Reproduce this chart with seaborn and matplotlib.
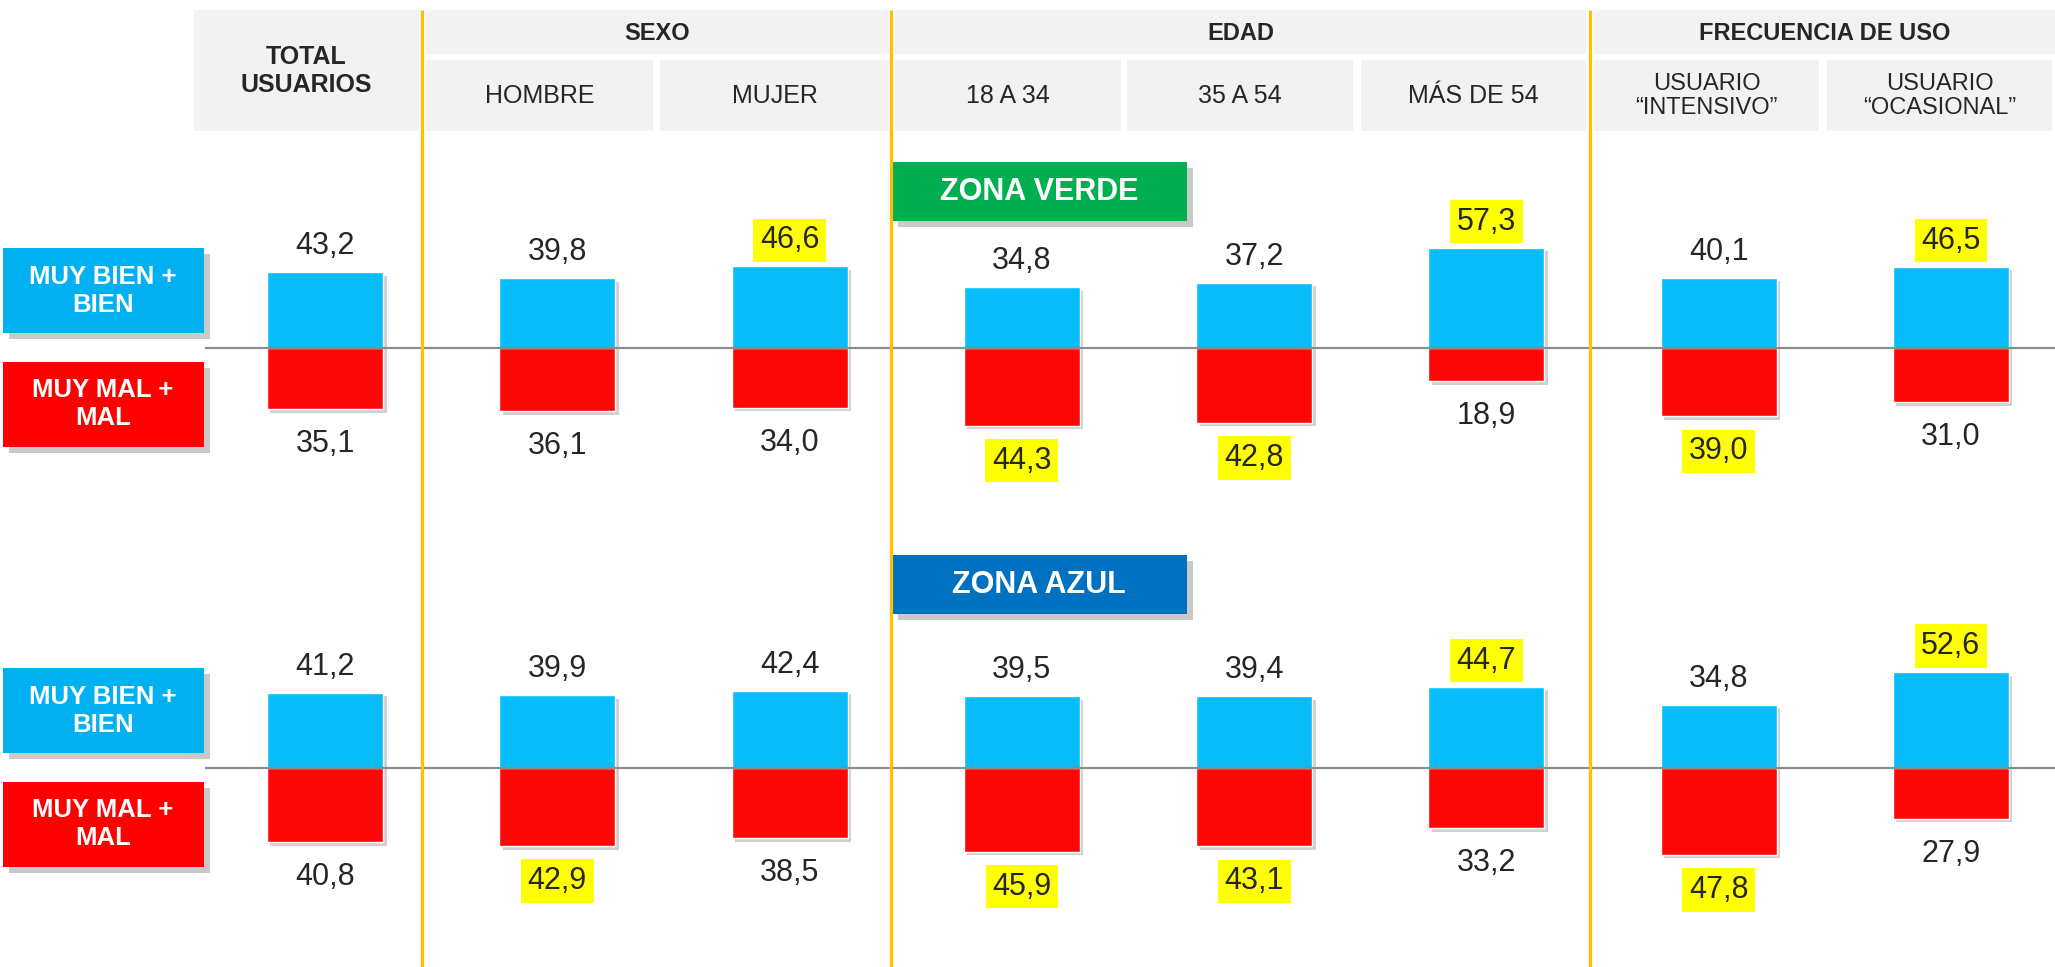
import matplotlib.pyplot as plt
import matplotlib.patheffects as pe
from matplotlib.patches import Rectangle
import seaborn as sns

# datos
categorias = ['TOTAL USUARIOS', 'HOMBRE', 'MUJER', '18 A 34', '35 A 54', 'MÁS DE 54',
              'USUARIO INTENSIVO', 'USUARIO OCASIONAL']
grupos = ['SEXO', 'EDAD', 'FRECUENCIA DE USO']
subtitulos = ['HOMBRE', 'MUJER', '18 A 34', '35 A 54', 'MÁS DE 54',
              'USUARIO\n“INTENSIVO”', 'USUARIO\n“OCASIONAL”']

verde_bien = [43.2, 39.8, 46.6, 34.8, 37.2, 57.3, 40.1, 46.5]
verde_mal = [35.1, 36.1, 34.0, 44.3, 42.8, 18.9, 39.0, 31.0]
azul_bien = [41.2, 39.9, 42.4, 39.5, 39.4, 44.7, 34.8, 52.6]
azul_mal = [40.8, 42.9, 38.5, 45.9, 43.1, 33.2, 47.8, 27.9]

# valores resaltados en amarillo
verde_bien_dest = [0, 0, 1, 0, 0, 1, 0, 1]
verde_mal_dest = [0, 0, 0, 1, 1, 0, 1, 0]
azul_bien_dest = [0, 0, 0, 0, 0, 1, 0, 1]
azul_mal_dest = [0, 1, 0, 1, 1, 0, 1, 0]

sns.set_style('white')
plt.rcParams['font.family'] = ['Liberation Sans', 'DejaVu Sans']

W, H = 2055, 967
fig = plt.figure(figsize=(W / 100, H / 100), dpi=100)


def px_axes(x0, y0, x1, y1, **kw):
    return fig.add_axes([x0 / W, 1 - y1 / H, (x1 - x0) / W, (y1 - y0) / H], **kw)


def fmt(v):
    return f'{v:.1f}'.replace('.', ',')


azul_barra = '#07BDFA'
rojo_barra = '#FE0707'
sombra = [pe.SimplePatchShadow(offset=(2.5, -2.5), shadow_rgbFace='#7a7a7a', alpha=0.35), pe.Normal()]
sombra_caja = [pe.SimplePatchShadow(offset=(4, -4), shadow_rgbFace='#7a7a7a', alpha=0.4), pe.Normal()]

zonas = [
    ('ZONA VERDE', '#00B050', verde_bien, verde_mal, verde_bien_dest, verde_mal_dest, 140, 480, 348, 1.75, 162),
    ('ZONA AZUL', '#0070C0', azul_bien, azul_mal, azul_bien_dest, azul_mal_dest, 500, 967, 768, 1.82, 555),
]

for nombre, col_zona, bien, mal, bien_d, mal_d, top, bot, cero, esc, zy in zonas:
    ax = px_axes(205, top, W, bot)
    ax.patch.set_visible(False)
    sns.barplot(x=categorias, y=bien, color=azul_barra, width=0.5, saturation=1,
                errorbar=None, ax=ax)
    sns.barplot(x=categorias, y=[-v for v in mal], color=rojo_barra, width=0.5, saturation=1,
                errorbar=None, ax=ax)
    for p in ax.patches:
        p.set_path_effects(sombra)
    ax.axhline(0, color='#8C8C8C', lw=1.6, zorder=3)
    ax.set_xlim(-0.517, 7.448)
    ax.set_ylim(-(bot - cero) / esc, (cero - top) / esc)
    ax.axis('off')

    for i, (v, d) in enumerate(zip(bien, bien_d)):
        ax.annotate(fmt(v), (i, v), xytext=(0, 13), textcoords='offset points',
                    ha='center', va='baseline', fontsize=22,
                    bbox=dict(boxstyle='square,pad=0.22', fc='#FFFF00', ec='none') if d else None)
    for i, (v, d) in enumerate(zip(mal, mal_d)):
        ax.annotate(fmt(v), (i, -v), xytext=(0, -31), textcoords='offset points',
                    ha='center', va='baseline', fontsize=22,
                    bbox=dict(boxstyle='square,pad=0.22', fc='#FFFF00', ec='none') if d else None)

# capa de maquetacion en pixeles
ov = fig.add_axes([0, 0, 1, 1], zorder=3)
ov.patch.set_visible(False)
ov.set_xlim(0, W)
ov.set_ylim(H, 0)
ov.axis('off')

gris = '#F2F2F2'
ov.add_patch(Rectangle((194, 10), 225, 121, fc=gris, ec='none'))
ov.text(306, 71, 'TOTAL\nUSUARIOS', ha='center', va='center', fontsize=18,
        fontweight='bold', linespacing=1.25)

grupo_x = [(426, 889), (895, 1586), (1594, W)]
for (x0, x1), g in zip(grupo_x, grupos):
    ov.add_patch(Rectangle((x0, 10), x1 - x0, 44, fc=gris, ec='none'))
    ov.text((x0 + x1) / 2, 33, g, ha='center', va='center', fontsize=17, fontweight='bold')

sub_x = [(426, 653), (660, 889), (895, 1121), (1127, 1353), (1361, 1586), (1594, 1819), (1827, 2052)]
for (x0, x1), s in zip(sub_x, subtitulos):
    ov.add_patch(Rectangle((x0, 60), x1 - x0, 71, fc=gris, ec='none'))
    fs = 17 if '\n' in s else 18
    ov.text((x0 + x1) / 2, 96, s, ha='center', va='center', fontsize=fs,
            linespacing=1.1, multialignment='center')

for x in [422, 891, 1590]:
    ov.plot([x, x], [10, H], color='#FFC000', lw=2.3, solid_capstyle='butt')

for nombre, col_zona, bien, mal, bien_d, mal_d, top, bot, cero, esc, zy in zonas:
    r = Rectangle((3, cero - 100), 201, 85, fc='#00B0F0', ec='none')
    r.set_path_effects(sombra_caja)
    ov.add_patch(r)
    ov.text(103, cero - 57, 'MUY BIEN +\nBIEN', color='white', ha='center', va='center',
            fontsize=18.5, fontweight='bold', linespacing=1.2)
    r = Rectangle((3, cero + 14), 201, 85, fc='#FF0000', ec='none')
    r.set_path_effects(sombra_caja)
    ov.add_patch(r)
    ov.text(103, cero + 56, 'MUY MAL +\nMAL', color='white', ha='center', va='center',
            fontsize=18.5, fontweight='bold', linespacing=1.2)

    r = Rectangle((892, zy), 295, 59, fc=col_zona, ec='none')
    r.set_path_effects(sombra_caja)
    ov.add_patch(r)
    ov.text(1039, zy + 30, nombre, color='white', ha='center', va='center',
            fontsize=22, fontweight='bold')

fig.savefig('out.png', dpi=100, facecolor='white')
